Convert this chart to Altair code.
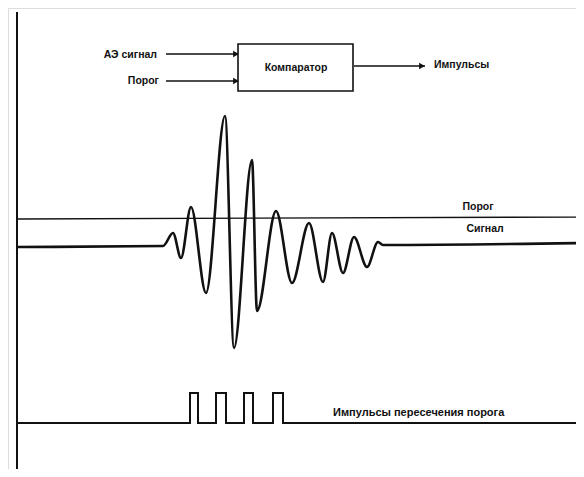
import altair as alt
import pandas as pd

# ---- values (page pixel units) ----
frame_x = [17, 17]
frame_y = [12, 469]

threshold_x = [17, 584]
threshold_y = [219, 217]

signal_x = [17, 163, 173, 181, 191, 206, 225, 234, 252, 257, 276, 292, 309,
            323, 332, 343, 354, 367, 378, 383, 584]
signal_y = [247, 246, 233, 258, 207, 293, 116, 348, 160, 311, 211, 283, 223,
            282, 233, 273, 237, 267, 242, 245, 243]

pulse_line_x = [17, 584]
pulse_low = 423
pulse_high = 393
pulse_starts = [190, 216, 244, 273]
pulse_ends = [198, 226, 253, 283]

arrow_x1 = [166, 166, 354]
arrow_x2 = [239, 239, 425]
arrow_y = [54, 81, 66]

box_x = [238, 353]
box_y = [44, 91]

label_text = ["АЭ сигнал", "Порог", "Компаратор", "Импульсы", "Порог", "Сигнал",
              "Импульсы пересечения порога"]
label_x = [157, 159, 296, 434, 478, 485, 333]
label_y = [55, 81, 68, 65, 207, 229, 413]
label_align = ["right", "right", "center", "left", "center", "center", "left"]
label_size = [10.5, 10.5, 10.5, 10.5, 10.5, 10.5, 11]

# ---- tables ----
frame_df = pd.DataFrame({"x": frame_x, "y": frame_y})
thr_df = pd.DataFrame({"x": threshold_x, "y": threshold_y})
sig_df = pd.DataFrame({"x": signal_x, "y": signal_y})

px, py = [pulse_line_x[0]], [pulse_low]
for s, e in zip(pulse_starts, pulse_ends):
    px += [s, s, e, e]
    py += [pulse_low, pulse_high, pulse_high, pulse_low]
px.append(pulse_line_x[1])
py.append(pulse_low)
pulse_df = pd.DataFrame({"x": px, "y": py, "o": list(range(len(px)))})

arrow_df = pd.DataFrame({"x1": arrow_x1, "x2": arrow_x2, "y": arrow_y})
arrow_df["xh"] = arrow_df["x2"] - 3
box_df = pd.DataFrame({"x1": [box_x[0]], "x2": [box_x[1]],
                       "y1": [box_y[0]], "y2": [box_y[1]]})
lab_df = pd.DataFrame({"t": label_text, "x": label_x, "y": label_y,
                       "a": label_align, "s": label_size})

X = alt.Scale(domain=[8, 576])
Y = alt.Scale(domain=[469, 8])
INK = "#111111"


def xenc(f):
    return alt.X(f, type="quantitative", scale=X, axis=None)


def yenc(f):
    return alt.Y(f, type="quantitative", scale=Y, axis=None)


frame = alt.Chart(frame_df).mark_line(color=INK, strokeWidth=2).encode(
    x=xenc("x"), y=yenc("y"))
thr = alt.Chart(thr_df).mark_line(color=INK, strokeWidth=1.3).encode(
    x=xenc("x"), y=yenc("y"))
sig = alt.Chart(sig_df).mark_line(color=INK, strokeWidth=2.6,
                                  interpolate="monotone").encode(
    x=xenc("x"), y=yenc("y"))
pulse = alt.Chart(pulse_df).mark_line(color=INK, strokeWidth=2).encode(
    x=xenc("x"), y=yenc("y"), order="o:Q")
arrows = alt.Chart(arrow_df).mark_rule(color=INK, strokeWidth=1.6).encode(
    x=xenc("x1"), x2="x2", y=yenc("y"))
heads = alt.Chart(arrow_df).mark_point(shape="triangle-right", filled=True,
                                       color=INK, size=45, opacity=1).encode(
    x=xenc("xh"), y=yenc("y"))
box = alt.Chart(box_df).mark_rect(fill="white", stroke=INK, strokeWidth=1.6).encode(
    x=xenc("x1"), x2="x2", y=yenc("y1"), y2="y2")

texts = []
for al in ["left", "center", "right"]:
    sub = lab_df[lab_df["a"] == al]
    texts.append(alt.Chart(sub).mark_text(align=al, baseline="middle",
                                          font="Liberation Sans", fontWeight="bold",
                                          color=INK).encode(
        x=xenc("x"), y=yenc("y"), text="t:N",
        size=alt.Size("s:Q", scale=None, legend=None)))

chart = alt.layer(frame, thr, sig, pulse, arrows, heads, box, *texts).properties(
    width=568, height=461, padding=0, autosize="none"
).configure_view(stroke=None).configure(background="white")

chart.save("out.html", embed_options={"renderer": "svg", "actions": False})
